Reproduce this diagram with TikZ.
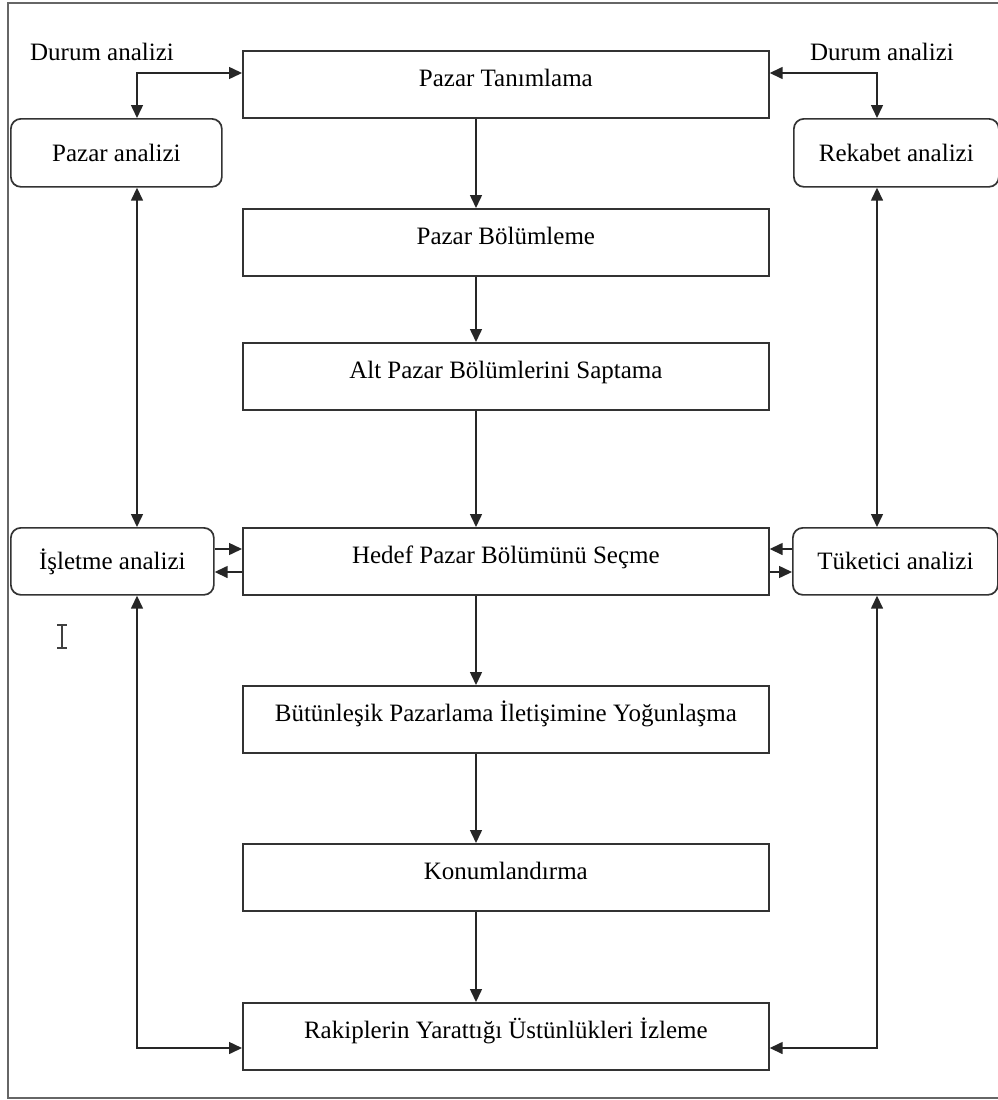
\documentclass[tikz,border=0pt]{standalone}
\usepackage{fontspec}
\setmainfont{Liberation Serif}
\usetikzlibrary{arrows.meta}
\begin{document}
\begin{tikzpicture}[x=1pt,y=-1pt,
  font=\fontsize{25}{29}\selectfont,
  mainbox/.style={draw=black!80,line width=1.7pt,minimum width=526pt,minimum height=67pt,inner sep=0pt,text height=17pt,text depth=13pt,anchor=north west},
  sidebox/.style={draw=black!80,line width=1.7pt,rounded corners=10pt,minimum height=68pt,inner sep=0pt,anchor=north west},
  conn/.style={draw=black!85,line width=1.5pt,-{Triangle[length=13pt,width=12pt]}},
  bconn/.style={draw=black!85,line width=1.5pt,{Triangle[length=13pt,width=12pt]}-{Triangle[length=13pt,width=12pt]}},
  lbl/.style={inner sep=0pt}]
\useasboundingbox (0,0) rectangle (998,1100);
\fill[white] (0,0) rectangle (998,1100);
% outer frame (open at the right)
\draw[black!60,line width=1.8pt] (998,3) -- (8,3) -- (8,1098) -- (998,1098);

% main column
\node[mainbox] (T1) at (242,50) {Pazar Tanımlama};
\node[mainbox] (T2) at (242,208) {Pazar Bölümleme};
\node[mainbox] (T3) at (242,342) {Alt Pazar Bölümlerini Saptama};
\node[mainbox] (T4) at (242,527) {Hedef Pazar Bölümünü Seçme};
\node[mainbox] (T5) at (242,685) {Bütünleşik Pazarlama İletişimine Yoğunlaşma};
\node[mainbox] (T6) at (242,843) {Konumlandırma};
\node[mainbox] (T7) at (242,1002) {Rakiplerin Yarattığı Üstünlükleri İzleme};

% side boxes
\node[sidebox,minimum width=211pt] (L1) at (10,118) {Pazar analizi};
\node[sidebox,minimum width=203pt,minimum height=67pt] (L2) at (10,527) {İşletme analizi};
\node[sidebox,minimum width=205pt] (R1) at (793,118) {Rekabet analizi};
\node[sidebox,minimum width=205pt,minimum height=67pt] (R2) at (792,527) {Tüketici analizi};

% labels
\node[lbl] (DL) at (102,52) {Durum analizi};
\node[lbl] (DR) at (882,52) {Durum analizi};

% helper coordinates
\coordinate (cx) at (476,0);
\coordinate (dl) at (137,73);
\coordinate (dr) at (877,73);
\coordinate (bl) at (137,1048);
\coordinate (br) at (877,1048);
\coordinate (ya) at (0,549);
\coordinate (yb) at (0,572);

% central flow
\draw[conn] (T1.south -| cx) -- (T2.north -| cx);
\draw[conn] (T2.south -| cx) -- (T3.north -| cx);
\draw[conn] (T3.south -| cx) -- (T4.north -| cx);
\draw[conn] (T4.south -| cx) -- (T5.north -| cx);
\draw[conn] (T5.south -| cx) -- (T6.north -| cx);
\draw[conn] (T6.south -| cx) -- (T7.north -| cx);

% left side
\draw[bconn] (L1.north -| dl) -- (dl) -- (T1.west |- dl);
\draw[bconn] (L1.south -| dl) -- (L2.north -| dl);
\draw[bconn] (L2.south -| bl) -- (bl) -- (T7.west |- bl);
\draw[conn] (L2.east |- ya) -- (T4.west |- ya);
\draw[conn] (T4.west |- yb) -- (L2.east |- yb);

% right side
\draw[bconn] (R1.north -| dr) -- (dr) -- (T1.east |- dr);
\draw[bconn] (R1.south -| dr) -- (R2.north -| dr);
\draw[bconn] (R2.south -| br) -- (br) -- (T7.east |- br);
\draw[conn] (R2.west |- ya) -- (T4.east |- ya);
\draw[conn] (T4.east |- yb) -- (R2.west |- yb);

% stray text cursor
\draw[black!75,line width=1.2pt] (57,625) -- (67,625) (62,625) -- (62,648) (57,648) -- (67,648);
\end{tikzpicture}
\end{document}
